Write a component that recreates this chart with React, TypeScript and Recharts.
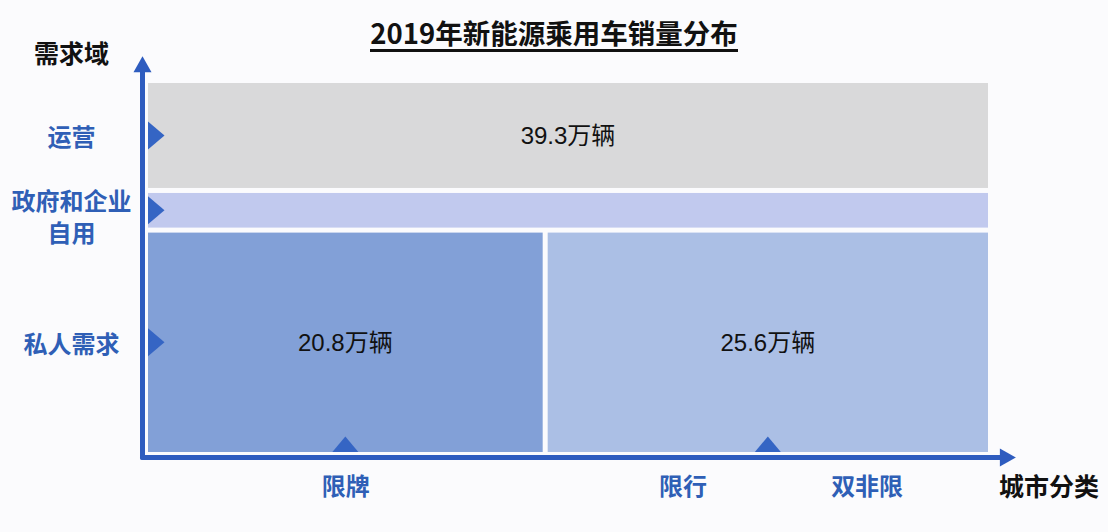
import React from 'react';
import { ComposedChart, XAxis, YAxis, ReferenceArea, ReferenceLine, ReferenceDot } from 'recharts';

// ---- data ----
const demandDomains = ['私人需求', '政府和企业\n自用', '运营'];
const demandShares = [60, 10.6, 29.4];
const privateCityGroups = ['限牌', '限行+双非限'];
const privateCityShares = [47.3, 52.7];
const privateSales = [20.8, 25.6];
const operatingSales = 39.3;
const cityTickLabels = ['限牌', '限行', '双非限'];
const cityTickValues = [23.7, 63.6, 85.4];
const unit = '万辆';

// ---- styles ----
const W = 1108;
const H = 532;
const MARGIN = { top: 80.5, right: 117.5, bottom: 76.5, left: 144.5 };
const CJK = '"Noto Sans CJK SC", "Noto Sans", sans-serif';
const NUM = '"Liberation Sans", "Noto Sans CJK SC", sans-serif';
const BLUE_TEXT = '#2f5fb6';
const AXIS = '#2e5cbf';
const MARKER = '#3565c4';
const COLORS = {
  opGrey: '#d9d9da',
  gov: '#c1c9ee',
  left: '#82a0d7',
  right: '#abbfe5',
};

const cum = (arr: number[]) => arr.reduce((acc: number[], v, i) => [...acc, (acc[i] ?? 0) + v], [0] as number[]);
const yB = cum(demandShares); // [0,60,70.6,100]
const xB = cum(privateCityShares); // [0,47.3,100]

const rects = [
  { x1: xB[0], x2: xB[1], y1: yB[0], y2: yB[1], fill: COLORS.left, label: `${privateSales[0]}${unit}`, name: privateCityGroups[0] },
  { x1: xB[1], x2: xB[2], y1: yB[0], y2: yB[1], fill: COLORS.right, label: `${privateSales[1]}${unit}`, name: privateCityGroups[1] },
  { x1: xB[0], x2: xB[2], y1: yB[1], y2: yB[2], fill: COLORS.gov, label: '', name: demandDomains[1] },
  { x1: xB[0], x2: xB[2], y1: yB[2], y2: yB[3], fill: COLORS.opGrey, label: `${operatingSales}${unit}`, name: demandDomains[2] },
];

const bandCenters = demandShares.map((_, i) => (yB[i] + yB[i + 1]) / 2);
const blockCenters = privateCityShares.map((_, i) => (xB[i] + xB[i + 1]) / 2);

const InsetRect = (p: any) => (
  <rect x={p.x + 2.5} y={p.y + 2.5} width={Math.max(0, p.width - 5)} height={Math.max(0, p.height - 5)} fill={p.fill} />
);

const ArrowLine = (p: any) => {
  const { x1, y1, x2, y2 } = p;
  const dx = x2 - x1;
  const dy = y2 - y1;
  const len = Math.sqrt(dx * dx + dy * dy) || 1;
  const ux = dx / len;
  const uy = dy / len;
  const head = 16;
  const half = 9;
  const bx = x2 - ux * head;
  const by = y2 - uy * head;
  return (
    <g>
      <line x1={x1} y1={y1} x2={bx + ux * 2} y2={by + uy * 2} stroke={AXIS} strokeWidth={5} strokeLinecap="round" />
      <polygon points={`${x2},${y2} ${bx - uy * half},${by + ux * half} ${bx + uy * half},${by - ux * half}`} fill={AXIS} />
    </g>
  );
};

const RightTri = (p: any) => (
  <polygon points={`${p.cx + 2.5},${p.cy - 14} ${p.cx + 19},${p.cy} ${p.cx + 2.5},${p.cy + 14}`} fill={MARKER} />
);
const UpTri = (p: any) => (
  <polygon points={`${p.cx - 13},${p.cy - 2.5} ${p.cx},${p.cy - 18} ${p.cx + 13},${p.cy - 2.5}`} fill={MARKER} />
);

const XTick = (p: any) => {
  const i = cityTickValues.findIndex((v) => Math.abs(v - p.payload.value) < 1e-6);
  return (
    <text x={p.x} y={p.y + 30} textAnchor="middle" dominantBaseline="central" fill={BLUE_TEXT} fontSize={24} fontWeight={700} fontFamily={CJK}>
      {cityTickLabels[i]}
    </text>
  );
};

const YTick = (p: any) => {
  const i = bandCenters.findIndex((v) => Math.abs(v - p.payload.value) < 1e-6);
  const lines = (demandDomains[i] ?? '').split('\n');
  const cx = p.x - 74;
  const lh = 32;
  const start = p.y - ((lines.length - 1) * lh) / 2 + (lines.length > 1 ? 5 : 0);
  return (
    <g>
      {lines.map((l, k) => (
        <text key={k} x={cx} y={start + k * lh} textAnchor="middle" dominantBaseline="central" fill={BLUE_TEXT} fontSize={24} fontWeight={700} fontFamily={CJK}>
          {l}
        </text>
      ))}
    </g>
  );
};

const xAxisY = -0.8;
const yAxisX = -0.355;

export default function App() {
  return (
    <div style={{ position: 'absolute', left: 0, top: 0, width: W, height: H, background: '#fbfbfd', fontFamily: CJK }}>
      <div style={{ position: 'absolute', left: 0, top: 15, width: W, textAlign: 'center' }}>
        <span style={{ display: 'inline-block', fontSize: 27.5, fontWeight: 700, color: '#111', lineHeight: '34px', borderBottom: '3px solid #111' }}>
          2019年新能源乘用车销量分布
        </span>
      </div>
      <div style={{ position: 'absolute', left: 34, top: 36, fontSize: 25, fontWeight: 700, color: '#111', lineHeight: '32px' }}>需求域</div>
      <div style={{ position: 'absolute', left: 999, top: 469, fontSize: 25, fontWeight: 700, color: '#111', lineHeight: '32px' }}>城市分类</div>
      <div style={{ position: 'absolute', left: 0, top: 0 }}>
        <ComposedChart width={W} height={H} margin={MARGIN} data={[]}>
          <XAxis type="number" dataKey="x" domain={[0, 100]} allowDataOverflow ticks={cityTickValues} height={1} axisLine={false} tickLine={false} tickSize={0} tickMargin={0} interval={0} tick={<XTick />} />
          <YAxis type="number" dataKey="y" domain={[0, 100]} allowDataOverflow ticks={bandCenters} width={1} axisLine={false} tickLine={false} tickSize={0} tickMargin={0} interval={0} tick={<YTick />} />
          {rects.map((r, i) => (
            <ReferenceArea
              key={i}
              x1={r.x1}
              x2={r.x2}
              y1={r.y1}
              y2={r.y2}
              fill={r.fill}
              fillOpacity={1}
              stroke="none"
              ifOverflow="visible"
              shape={InsetRect}
              label={r.label ? { value: r.label, position: 'center', fill: '#111', fontSize: 24, fontFamily: NUM } : undefined}
            />
          ))}
          {bandCenters.map((c, i) => (
            <ReferenceDot key={`r${i}`} x={0} y={c} r={0} ifOverflow="visible" shape={RightTri} />
          ))}
          {blockCenters.map((c, i) => (
            <ReferenceDot key={`u${i}`} x={c} y={0} r={0} ifOverflow="visible" shape={UpTri} />
          ))}
          <ReferenceLine segment={[{ x: yAxisX, y: xAxisY }, { x: yAxisX, y: 106.5 }]} ifOverflow="visible" shape={ArrowLine} />
          <ReferenceLine segment={[{ x: yAxisX, y: xAxisY }, { x: 103.0, y: xAxisY }]} ifOverflow="visible" shape={ArrowLine} />
        </ComposedChart>
      </div>
    </div>
  );
}
